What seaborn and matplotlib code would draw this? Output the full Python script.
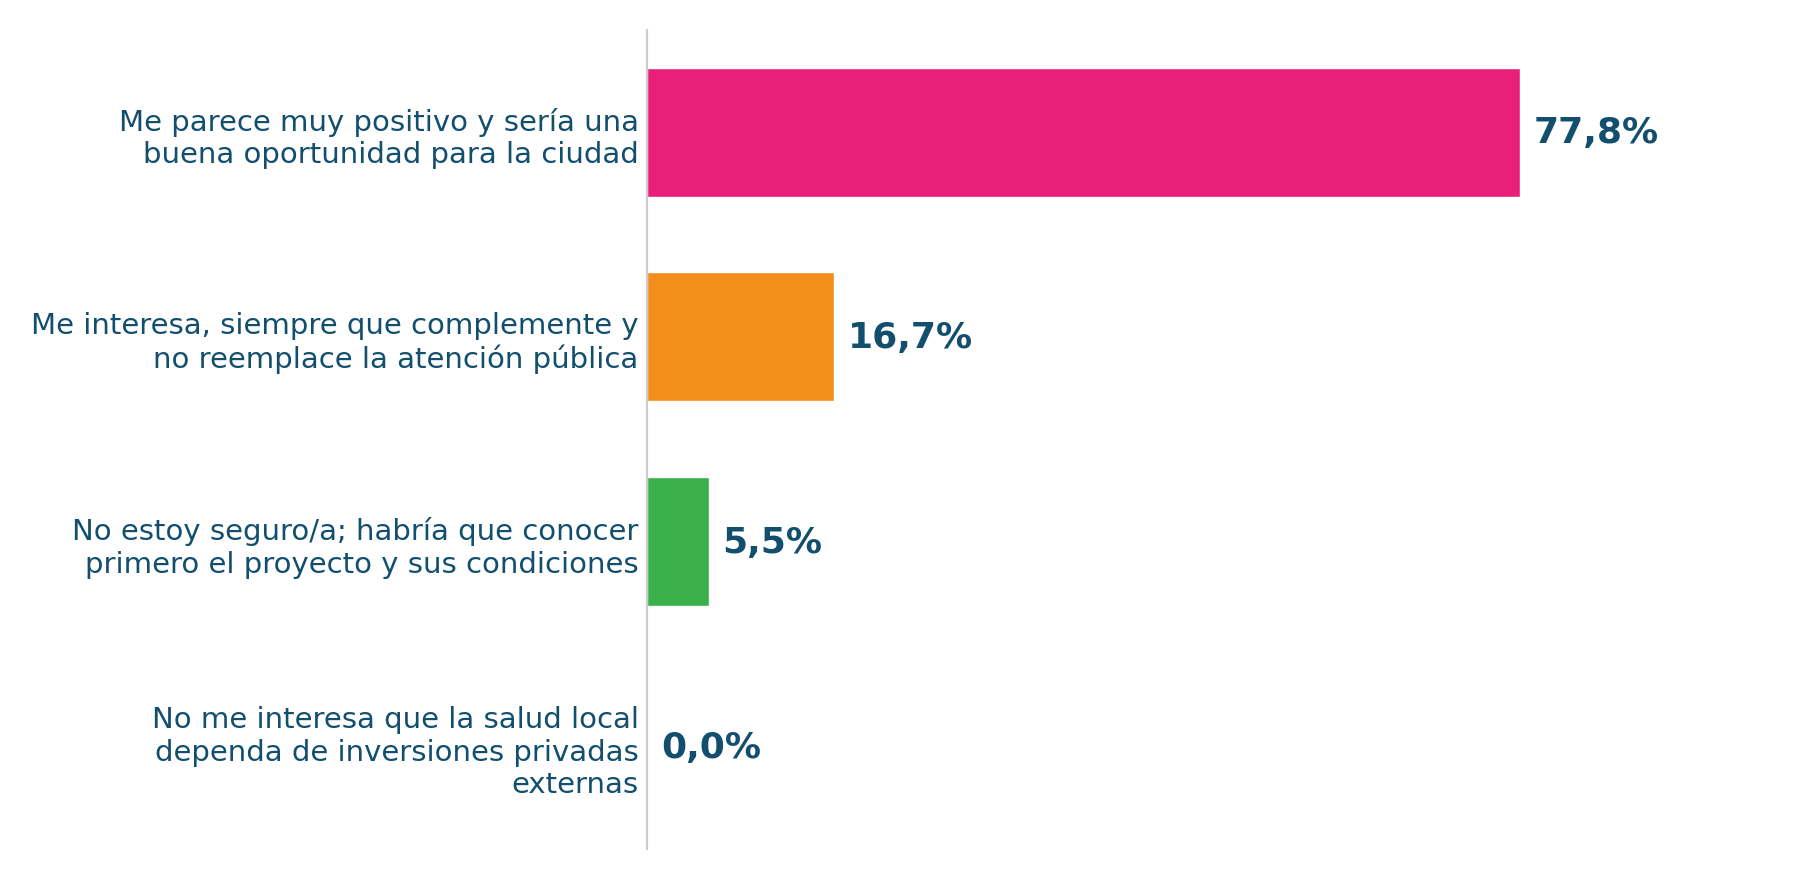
import matplotlib
matplotlib.use("Agg")
import matplotlib.pyplot as plt
import seaborn as sns
import pandas as pd

categorias = [
    "Me parece muy positivo y sería una\nbuena oportunidad para la ciudad",
    "Me interesa, siempre que complemente y\nno reemplace la atención pública",
    "No estoy seguro/a; habría que conocer\nprimero el proyecto y sus condiciones",
    "No me interesa que la salud local\ndependa de inversiones privadas\nexternas",
]
porcentajes = [77.8, 16.7, 5.5, 0.0]
colores = ["#E8207A", "#F18F1A", "#39B04A", "#1F77B4"]
etiquetas = ["77,8%", "16,7%", "5,5%", "0,0%"]

texto = "#124E6E"

sns.set_style("white")
plt.rcParams['font.family'] = ['DejaVu Sans']

df = pd.DataFrame({"cat": categorias, "pct": porcentajes})

fig = plt.figure(figsize=(18, 8.79), dpi=100)
ax = fig.add_axes([0.3594, 0.033, 0.6236, 0.932])

sns.barplot(data=df, x="pct", y="cat", hue="cat", palette=colores,
            orient="h", width=0.63, legend=False, ax=ax, saturation=1)

for i, (v, lab) in enumerate(zip(porcentajes, etiquetas)):
    ax.annotate(lab, xy=(v, i), xytext=(10, 0), textcoords="offset points",
                ha="left", va="center", fontsize=26, fontweight="bold", color=texto)

ax.set_xlim(0, 100)
ax.set_ylim(3.5, -0.5)
ax.set_xlabel("")
ax.set_ylabel("")
ax.set_xticks([])
ax.tick_params(axis="y", length=0, pad=6, labelsize=21, labelcolor=texto)
for s in ["top", "right", "bottom"]:
    ax.spines[s].set_visible(False)
ax.spines["left"].set_color("#cccccc")
ax.spines["left"].set_linewidth(1.5)

fig.savefig("out.png", dpi=100)
